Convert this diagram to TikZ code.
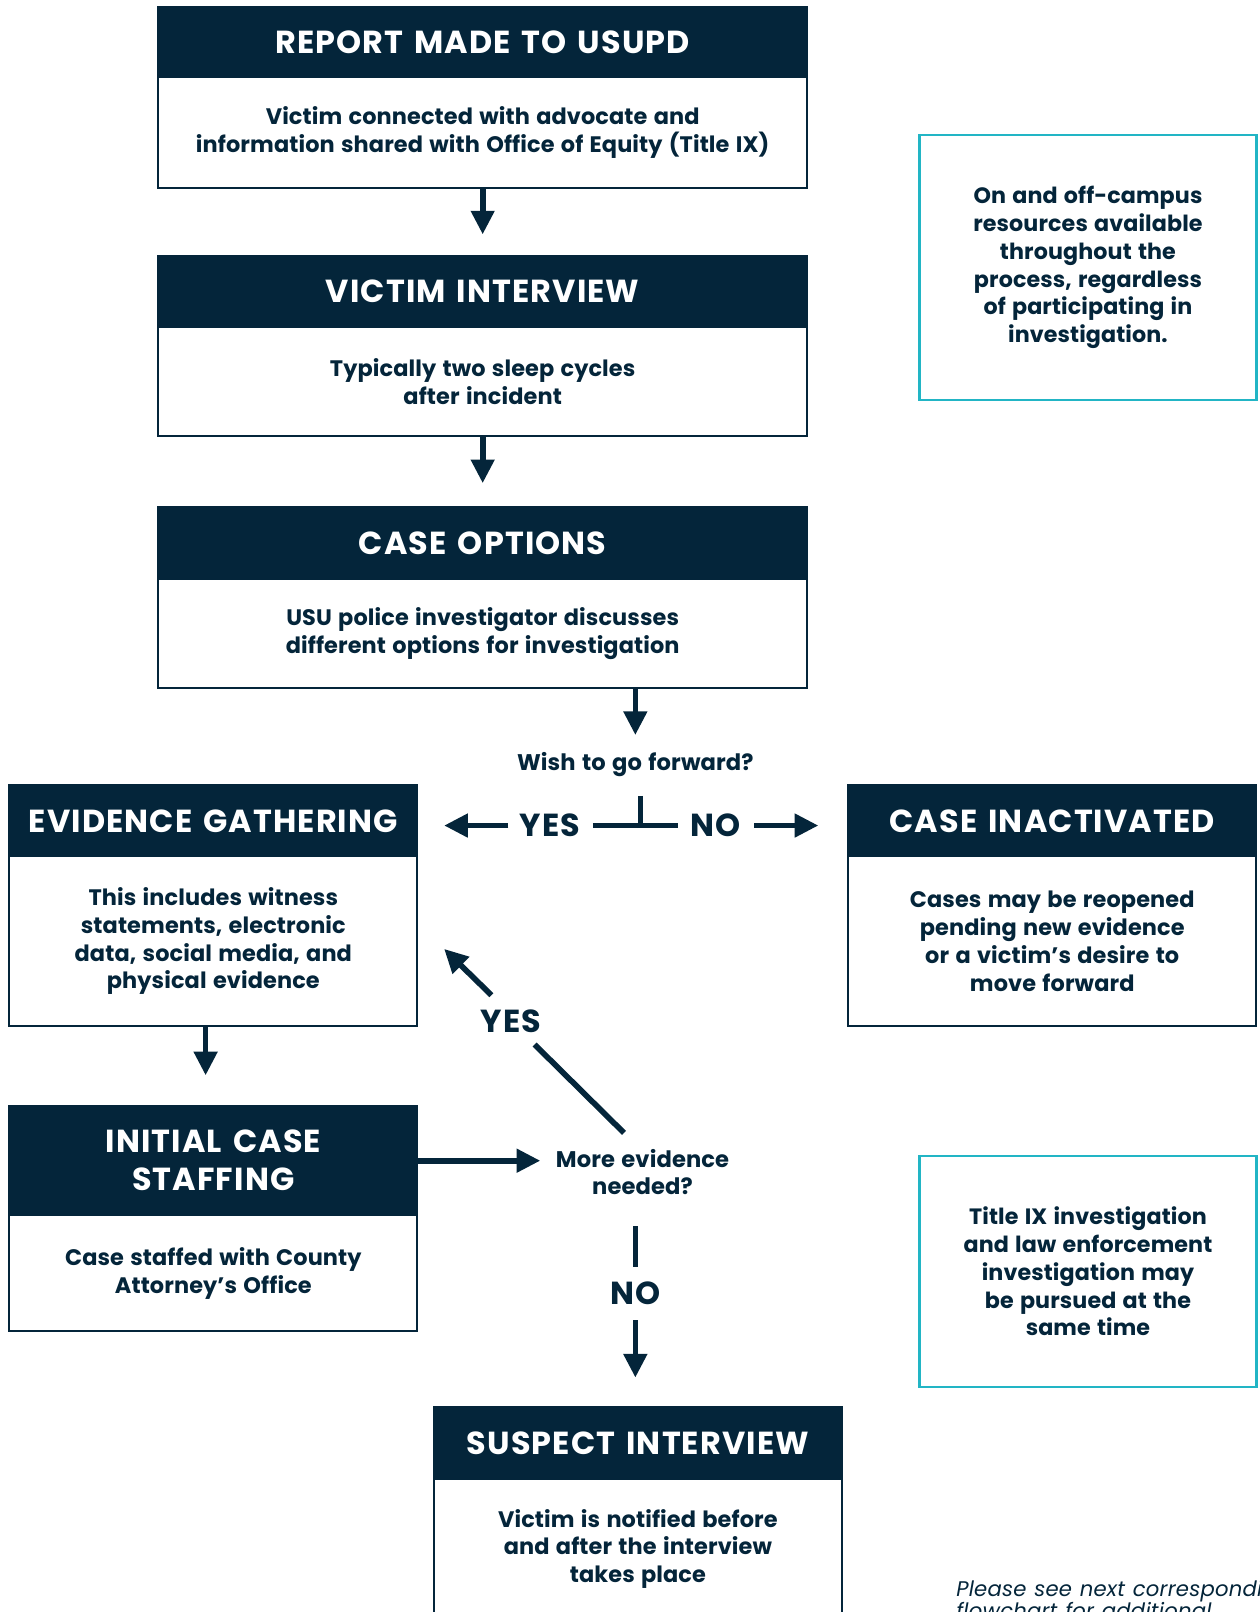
\documentclass[tikz,border=0pt]{standalone}
\usepackage{fontspec}
\setmainfont{Poppins}
\newfontfamily\hfont{Poppins}[LetterSpace=3.5, WordSpace=1.4]
\newfontfamily\bfont{Poppins}[LetterSpace=0.5, WordSpace=1.3]
\newfontfamily\ffont{Poppins}[LetterSpace=1, WordSpace=1.2]
\usetikzlibrary{arrows.meta}
\definecolor{navy}{HTML}{04253A}
\definecolor{cyanline}{HTML}{22B5C5}
\begin{document}
\begin{tikzpicture}[x=1pt,y=-1pt,
  hdr/.style={fill=navy, draw=navy, line width=2pt, text=white, font=\hfont\fontsize{31}{37}\selectfont\bfseries, inner sep=0pt, anchor=north west, align=center},
  bodybox/.style={draw=navy, line width=2pt, fill=white, text=navy, font=\bfont\fontsize{21.8}{27}\selectfont\bfseries, align=center, inner sep=0pt, anchor=north west},
  notebox/.style={draw=cyanline, line width=2.5pt, text=navy, font=\bfont\fontsize{21.6}{27}\selectfont\bfseries, align=center, inner sep=0pt, anchor=north west},
  lbl/.style={text=navy, font=\bfont\fontsize{22}{27}\selectfont\bfseries, align=center, inner sep=0pt},
  biglbl/.style={text=navy, font=\hfont\fontsize{31}{37}\selectfont\bfseries, inner sep=0pt},
  arr/.style={draw=navy, line width=5.5pt, -{Triangle[width=22pt,length=23pt]}},
  bar/.style={draw=navy, line width=5.5pt}]
\useasboundingbox (0,0) rectangle (1225,1568);
\clip (0,0) rectangle (1225,1568);
\fill[white] (0,0) rectangle (1225,1568);

% Report
\node[hdr, minimum width=631pt, minimum height=68pt] (Rh) at (153,6) {REPORT MADE TO USUPD};
\node[bodybox, minimum width=631pt, minimum height=108pt] (Rb) at (153,74) {Victim connected with advocate and\\information shared with Office of Equity (Title IX)};
% Victim interview
\node[hdr, minimum width=631pt, minimum height=69pt] (Vh) at (153,248) {VICTIM INTERVIEW};
\node[bodybox, minimum width=631pt, minimum height=106pt] (Vb) at (153,317) {Typically two sleep cycles\\after incident};
% Case options
\node[hdr, minimum width=631pt, minimum height=70pt] (Ch) at (153,492) {CASE OPTIONS};
\node[bodybox, minimum width=631pt, minimum height=106pt] (Cb) at (153,562) {USU police investigator discusses\\different options for investigation};
% Evidence gathering
\node[hdr, minimum width=397pt, minimum height=69pt] (Eh) at (8,763) {EVIDENCE GATHERING};
\node[bodybox, minimum width=397pt, minimum height=165pt] (Eb) at (8,832) {This includes witness\\statements, electronic\\data, social media, and\\physical evidence};
% Case inactivated
\node[hdr, minimum width=397pt, minimum height=69pt] (CIh) at (824,763) {CASE INACTIVATED};
\node[bodybox, minimum width=397pt, minimum height=165pt] (CIb) at (824,832) {Cases may be reopened\\pending new evidence\\or a victim’s desire to\\move forward};
% Initial case staffing
\node[hdr, minimum width=397pt, minimum height=106pt] (Ih) at (8,1075) {INITIAL CASE\\STAFFING};
\node[bodybox, minimum width=397pt, minimum height=113pt] (Ib) at (8,1181) {Case staffed with County\\Attorney’s Office};
% Suspect interview
\node[hdr, minimum width=397pt, minimum height=70pt] (Sh) at (421,1368) {SUSPECT INTERVIEW};
\node[bodybox, minimum width=397pt, minimum height=135pt] (Sb) at (421,1438) {Victim is notified before\\and after the interview\\takes place};
% Notes
\node[notebox, minimum width=328pt, minimum height=258pt] (N1) at (893,130) {On and off-campus\\resources available\\throughout the\\process, regardless\\of participating in\\investigation.};
\node[notebox, minimum width=328pt, minimum height=225pt] (N2) at (893,1123) {Title IX investigation\\and law enforcement\\investigation may\\be pursued at the\\same time};
% Footer
\node[text=navy, font=\ffont\fontsize{20.6}{21.5}\selectfont\itshape, align=left, inner sep=0pt, anchor=north west] (foot) at (930,1537) {Please see next corresponding\\flowchart for additional};

% Decision labels
\node[lbl] (wish) at (618,744) {Wish to go forward?};
\node[biglbl] (yes1) at (535,803) {YES};
\node[biglbl] (no1) at (696,803) {NO};
\node[lbl] (more) at (625,1140) {More evidence\\needed?};
\node[biglbl] (yes2) at (497,993) {YES};
\node[biglbl] (no2) at (618,1258) {NO};

\coordinate (tj) at (623,803);
\coordinate (d1) at (607,1102);
\coordinate (d2) at (520,1016);
\coordinate (d3) at (478,968);
\coordinate (d4) at (432,923);

% Connectors
\draw[arr, shorten >=20pt] (Rb.south) -- (Vh.north);
\draw[arr, shorten >=22pt] (Vb.south) -- (Ch.north);
\draw[arr, shorten >=17pt] (Cb.south -| wish) -- (wish.north);
\draw[bar, shorten <=18pt] (wish.south -| tj) -- (tj);
\draw[bar, shorten <=12pt, shorten >=12pt] (yes1.east) -- (no1.west);
\draw[arr, shorten <=11pt, shorten >=25pt] (yes1.west) -- (yes1.west -| Eh.east);
\draw[arr, shorten <=13pt, shorten >=28pt] (no1.east) -- (no1.east -| CIh.west);
\draw[arr, shorten >=29pt] ([xshift=-7.5pt]Eb.south) -- ([xshift=-7.5pt]Ih.north);
\draw[arr, shorten >=15pt] (Ih.east) -- (Ih.east -| more.west);
\draw[bar] (d1) -- (d2);
\draw[arr] (d3) -- (d4);
\draw[bar, shorten <=30pt, shorten >=14pt] (more.south -| no2) -- (no2.north);
\draw[arr, shorten <=15pt, shorten >=28pt] (no2.south) -- (no2.south |- Sh.north);
\end{tikzpicture}
\end{document}
